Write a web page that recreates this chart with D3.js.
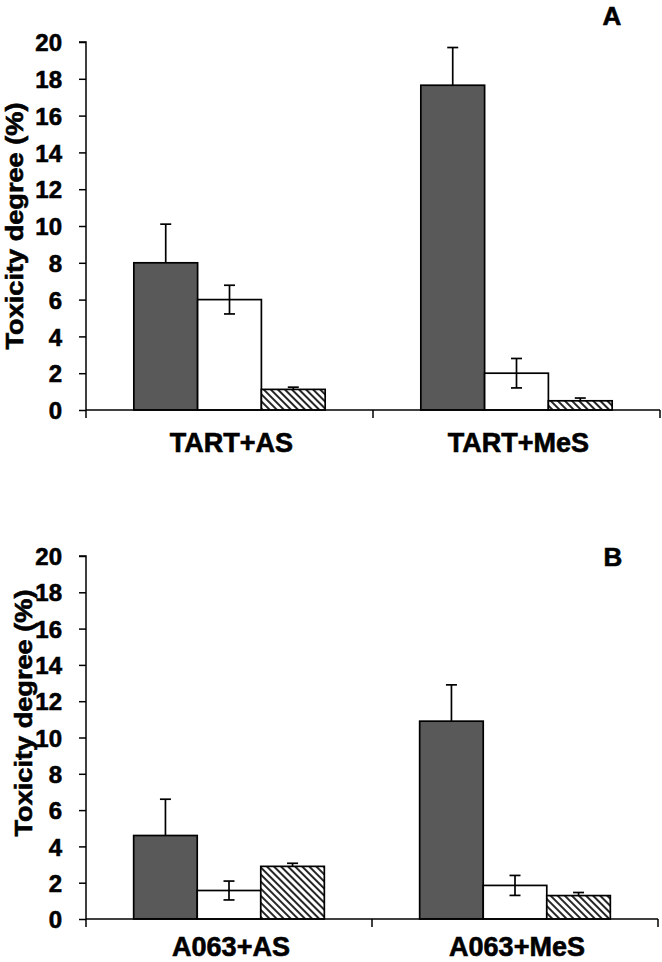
<!DOCTYPE html>
<html>
<head>
<meta charset="utf-8">
<script src="https://cdn.jsdelivr.net/npm/d3@7"></script>
<style>
  html, body { margin: 0; padding: 0; background: #fff; }
  svg { display: block; }
  text { font-family: "Liberation Sans", Arial, sans-serif; font-weight: bold; fill: #000; stroke: #000; stroke-width: 0.6px; }
</style>
</head>
<body>
<svg id="chart" width="662" height="962"></svg>
<script>
// ---------- data ----------
const seriesNames = ["dark", "white", "hatched"];
const yTicks = [0, 2, 4, 6, 8, 10, 12, 14, 16, 18, 20];
const yLabel = "Toxicity degree (%)";

const categoriesA = ["TART+AS", "TART+MeS"];
const darkA = [8.0, 17.65];
const whiteA = [6.0, 2.0];
const hatchedA = [1.12, 0.5];
const darkErrA = [2.1, 2.05];
const whiteErrA = [0.78, 0.8];
const hatchedErrA = [0.12, 0.15];

const categoriesB = ["A063+AS", "A063+MeS"];
const darkB = [4.6, 10.9];
const whiteB = [1.57, 1.85];
const hatchedB = [2.9, 1.29];
const darkErrB = [2.0, 2.0];
const whiteErrB = [0.52, 0.55];
const hatchedErrB = [0.17, 0.17];

// error bar direction per series: "plus" or "both"
const errMode = ["plus", "both", "plus"];

// ---------- drawing ----------
const svg = d3.select("#chart");
const defs = svg.append("defs");
const pat = defs.append("pattern")
  .attr("id", "hatch")
  .attr("patternUnits", "userSpaceOnUse")
  .attr("width", 5).attr("height", 5)
  .attr("patternTransform", "rotate(-45)");
pat.append("rect").attr("width", 5).attr("height", 5).attr("fill", "#fff");
pat.append("line").attr("x1", 1).attr("y1", 0).attr("x2", 1).attr("y2", 5)
  .attr("stroke", "#000").attr("stroke-width", 1.7);

const fills = ["#595959", "#ffffff", "url(#hatch)"];

function panel(cfg) {
  const g = svg.append("g");
  const x = d3.scaleBand().domain(cfg.categories).range([cfg.x0, cfg.x1]).paddingInner(0).paddingOuter(0);
  const xs = d3.scaleBand().domain(seriesNames).range([0, x.bandwidth()]).paddingInner(0).paddingOuter(0.75);
  const y = d3.scaleLinear().domain([0, 20]).range([cfg.yBottom, cfg.yTop]);

  const rows = [];
  cfg.categories.forEach((c, i) => {
    seriesNames.forEach((s, j) => {
      rows.push({ cat: c, s, j, v: cfg.values[j][i], e: cfg.errors[j][i] });
    });
  });

  // bars
  g.selectAll("rect.bar").data(rows).join("rect")
    .attr("class", "bar")
    .attr("x", d => x(d.cat) + xs(d.s))
    .attr("y", d => y(d.v))
    .attr("width", xs.bandwidth())
    .attr("height", d => y(0) - y(d.v))
    .attr("fill", d => fills[d.j])
    .attr("stroke", "#000")
    .attr("stroke-width", 1.7);

  // error bars
  const cap = 5.5;
  const eg = g.selectAll("g.err").data(rows).join("g").attr("class", "err")
    .attr("stroke", "#000").attr("stroke-width", 1.7);
  eg.append("line")
    .attr("x1", d => x(d.cat) + xs(d.s) + xs.bandwidth() / 2)
    .attr("x2", d => x(d.cat) + xs(d.s) + xs.bandwidth() / 2)
    .attr("y1", d => errMode[d.j] === "both" ? y(d.v - d.e) : y(d.v))
    .attr("y2", d => y(d.v + d.e));
  eg.append("line")
    .attr("x1", d => x(d.cat) + xs(d.s) + xs.bandwidth() / 2 - cap)
    .attr("x2", d => x(d.cat) + xs(d.s) + xs.bandwidth() / 2 + cap)
    .attr("y1", d => y(d.v + d.e))
    .attr("y2", d => y(d.v + d.e));
  eg.filter(d => errMode[d.j] === "both").append("line")
    .attr("x1", d => x(d.cat) + xs(d.s) + xs.bandwidth() / 2 - cap)
    .attr("x2", d => x(d.cat) + xs(d.s) + xs.bandwidth() / 2 + cap)
    .attr("y1", d => y(d.v - d.e))
    .attr("y2", d => y(d.v - d.e));

  // y axis
  const yAxis = d3.axisLeft(y).tickValues(yTicks).tickSize(7).tickPadding(17);
  const ya = g.append("g").attr("transform", `translate(${cfg.x0},0)`).call(yAxis);
  ya.select(".domain").attr("stroke", "#000").attr("stroke-width", 1.5)
    .attr("d", `M-7,${y(20)}H0V${y(0) + 8}`);
  ya.selectAll(".tick line").attr("stroke", "#000").attr("stroke-width", 1.5);
  ya.selectAll(".tick text").style("font-size", "24px").attr("dy", "0.36em")
    .style("font-family", '"Liberation Sans", Arial, sans-serif').style("font-weight", "bold")
    .style("stroke", "#000").style("stroke-width", "0.6px");

  // x axis baseline + boundary ticks
  g.append("line").attr("x1", cfg.x0).attr("x2", cfg.x1).attr("y1", y(0)).attr("y2", y(0))
    .attr("stroke", "#000").attr("stroke-width", 1.5);
  const bounds = cfg.categories.map(c => x(c)).concat([x(cfg.categories[cfg.categories.length - 1]) + x.bandwidth()]);
  g.selectAll("line.bt").data(bounds.slice(1)).join("line").attr("class", "bt")
    .attr("x1", d => d).attr("x2", d => d).attr("y1", y(0)).attr("y2", y(0) + 8)
    .attr("stroke", "#000").attr("stroke-width", 1.5);

  // category labels
  g.selectAll("text.cat").data(cfg.categories).join("text").attr("class", "cat")
    .attr("x", d => x(d) + x.bandwidth() / 2 + 2)
    .attr("y", cfg.catBaseline)
    .attr("text-anchor", "middle")
    .style("font-size", "27px")
    .text(d => d);

  // y label
  g.append("text")
    .attr("transform", `translate(${cfg.ylabX},${cfg.ylabY}) rotate(-90)`)
    .attr("text-anchor", "middle")
    .attr("textLength", 247).attr("lengthAdjust", "spacingAndGlyphs")
    .style("font-size", "24px")
    .text(yLabel);

  // panel letter
  g.append("text").attr("x", cfg.letterX).attr("y", cfg.letterY)
    .attr("text-anchor", "middle").style("font-size", "26px").text(cfg.letter);
}

panel({
  categories: categoriesA,
  values: [darkA, whiteA, hatchedA],
  errors: [darkErrA, whiteErrA, hatchedErrA],
  x0: 86, x1: 660, yTop: 42, yBottom: 410,
  catBaseline: 452, ylabX: 23, ylabY: 226, letter: "A", letterX: 612, letterY: 25
});

panel({
  categories: categoriesB,
  values: [darkB, whiteB, hatchedB],
  errors: [darkErrB, whiteErrB, hatchedErrB],
  x0: 86, x1: 658, yTop: 556, yBottom: 919,
  catBaseline: 956, ylabX: 32, ylabY: 713, letter: "B", letterX: 613, letterY: 566
});
</script>
</body>
</html>
